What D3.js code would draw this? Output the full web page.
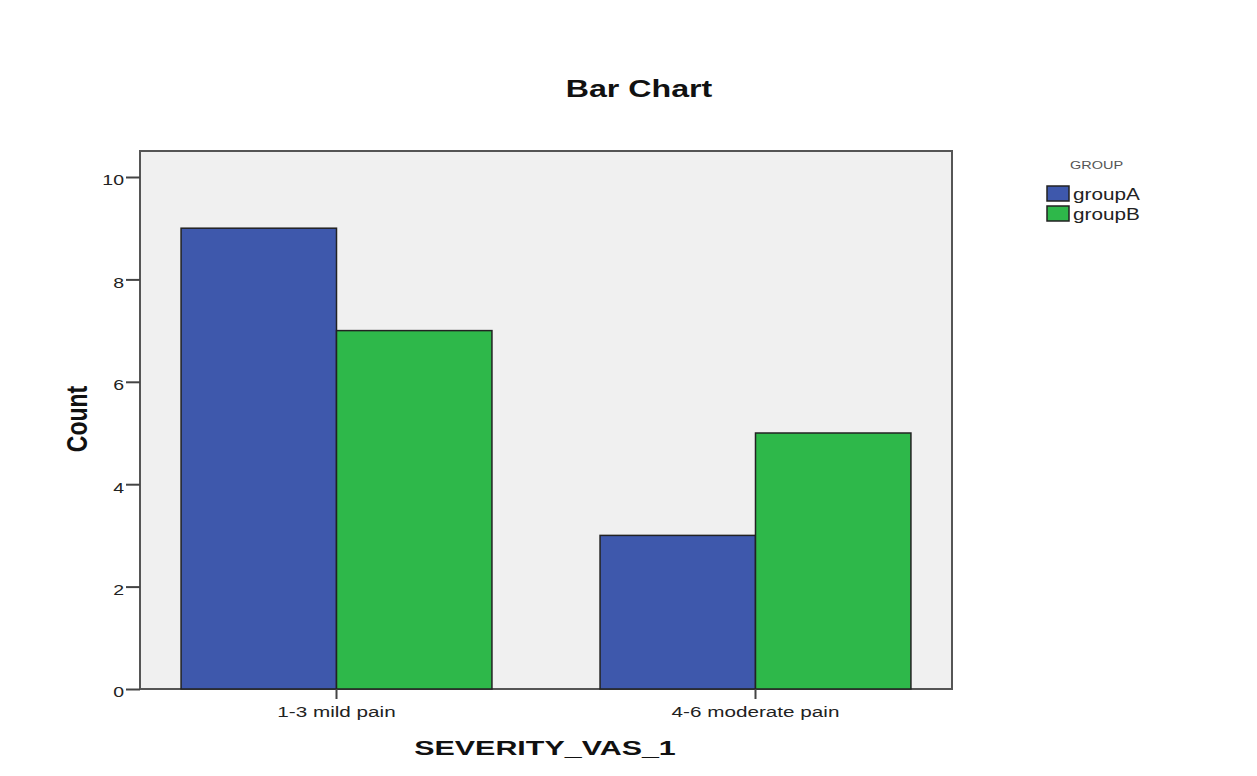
<!DOCTYPE html>
<html><head><meta charset="utf-8">
<script src="https://cdn.jsdelivr.net/npm/d3@7"></script>
<style>body{margin:0;background:#fff;font-family:"Liberation Sans",Arial,sans-serif;}</style>
</head><body>
<svg id="c" width="1257" height="776"></svg>
<script>
const categories = ["1-3 mild pain", "4-6 moderate pain"];
const groups = ["groupA", "groupB"];
const groupA = [9, 3];
const groupB = [7, 5];
const yTicks = [0, 2, 4, 6, 8, 10];
const colors = ["#3e58ac", "#2eb84a"];

const FF = "Liberation Sans, Arial, sans-serif";
const svg = d3.select("#c");
const L = 140, R = 952, T = 151, B = 689;
const x = d3.scaleBand().domain(categories).range([L, R]).paddingInner(0.258).paddingOuter(0.098);
const xs = d3.scaleBand().domain(groups).range([0, x.bandwidth()]);
const y = d3.scaleLinear().domain([0, 10]).range([B, 177]);

svg.append("rect").attr("x", L).attr("y", T).attr("width", R - L).attr("height", B - T)
  .attr("fill", "#f0f0f0").attr("stroke", "#555").attr("stroke-width", 2);

const series = [groupA, groupB];
categories.forEach((c, i) => {
  groups.forEach((g, j) => {
    const v = series[j][i];
    svg.append("rect")
      .attr("x", x(c) + xs(g)).attr("y", y(v))
      .attr("width", xs.bandwidth()).attr("height", y(0) - y(v))
      .attr("fill", colors[j]).attr("stroke", "#222").attr("stroke-width", 1.5);
  });
});

const ya = svg.append("g").attr("transform", `translate(${L},0)`)
  .call(d3.axisLeft(y).tickValues(yTicks).tickSize(14).tickPadding(2).tickFormat(d3.format("d")));
ya.select(".domain").remove();
ya.selectAll("line").attr("stroke", "#444").attr("stroke-width", 2);
ya.selectAll("text").attr("font-size", 15).attr("fill", "#222").attr("font-family", FF)
  .attr("x", -16 / 1.3).attr("y", 3).attr("transform", "scale(1.3,1)");

const xa = svg.append("g").attr("transform", `translate(0,${B})`)
  .call(d3.axisBottom(x).tickSize(10).tickPadding(4));
xa.select(".domain").remove();
xa.selectAll("line").attr("stroke", "#444").attr("stroke-width", 2);
xa.selectAll("text").attr("font-size", 15).attr("fill", "#222").attr("font-family", FF)
  .attr("y", 28).attr("dy", 0).attr("transform", "scale(1.38,1)");

svg.append("text").attr("transform", "translate(639,97) scale(1.4,1)").attr("text-anchor", "middle")
  .attr("font-size", 23).attr("font-weight", "bold").attr("fill", "#111").text("Bar Chart");
svg.append("text").attr("transform", "translate(545,755) scale(1.45,1)").attr("text-anchor", "middle")
  .attr("font-size", 21).attr("font-weight", "bold").attr("fill", "#111").text("SEVERITY_VAS_1");
svg.append("text").attr("transform", "translate(87,419) scale(1.25,1) rotate(-90)").attr("text-anchor", "middle")
  .attr("font-size", 23).attr("font-weight", "bold").attr("fill", "#111").text("Count");

const lg = svg.append("g");
lg.append("text").attr("transform", "translate(1070,169) scale(1.45,1)").attr("font-size", 10)
  .attr("fill", "#555").text("GROUP");
groups.forEach((g, j) => {
  lg.append("rect").attr("x", 1047).attr("y", 186 + j * 20).attr("width", 22).attr("height", 15)
    .attr("fill", colors[j]).attr("stroke", "#222").attr("stroke-width", 1.5);
  lg.append("text").attr("transform", `translate(1073,${200 + j * 20}) scale(1.22,1)`)
    .attr("font-size", 17).attr("fill", "#222").attr("font-family", FF).text(g);
});
</script>
</body></html>
